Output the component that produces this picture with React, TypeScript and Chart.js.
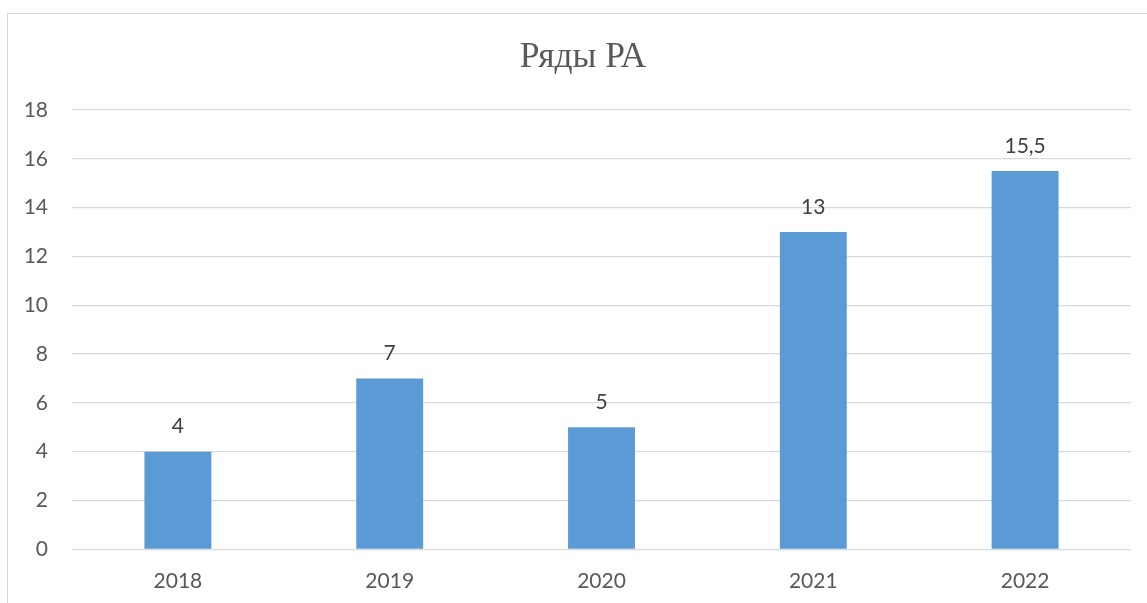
import React, { useEffect, useRef } from "react";
import { Chart, registerables } from "chart.js";

Chart.register(...registerables);

const chartTitle = "Ряды РА";
const categories = ["2018", "2019", "2020", "2021", "2022"];
const seriesValues = [4, 7, 5, 13, 15.5];
const yTickMin = 0;
const yTickMax = 18;
const yTickStep = 2;

const valueLabelPlugin = {
  id: "valueLabels",
  afterDatasetsDraw(chart: any) {
    const ctx = chart.ctx;
    const meta = chart.getDatasetMeta(0);
    ctx.save();
    ctx.font = "21px Lato";
    ctx.fillStyle = "#404040";
    ctx.textAlign = "center";
    ctx.textBaseline = "middle";
    meta.data.forEach((bar: any, i: number) => {
      const v = chart.data.datasets[0].data[i];
      const text = String(v).replace(".", ",");
      ctx.fillText(text, bar.x, bar.y - 25);
    });
    ctx.restore();
  },
};

export default function App() {
  const ref = useRef<HTMLCanvasElement | null>(null);

  useEffect(() => {
    if (!ref.current) return;
    const chart = new Chart(ref.current, {
      type: "bar",
      data: {
        labels: categories,
        datasets: [
          {
            label: chartTitle,
            data: seriesValues,
            backgroundColor: "#5B9BD5",
            borderWidth: 0,
            categoryPercentage: 1,
            barPercentage: 0.316,
          },
        ],
      },
      options: {
        responsive: false,
        animation: false,
        layout: { padding: { left: 0, right: 0, top: 0, bottom: 0 } },
        plugins: {
          legend: { display: false },
          tooltip: { enabled: false },
          title: {
            display: true,
            text: chartTitle,
            color: "#595959",
            font: { family: "'Liberation Serif', 'Times New Roman', serif", size: 35.5, weight: "normal", lineHeight: 1.2 },
            padding: { top: 22, bottom: 31.5 },
          },
        },
        scales: {
          x: {
            grid: { display: false, drawTicks: false },
            border: { display: false },
            ticks: {
              color: "#595959",
              font: { family: "Lato", size: 21 },
              padding: 19,
            },
            afterFit: (scale: any) => {
              scale.height = 62.7;
            },
          },
          y: {
            min: yTickMin,
            max: yTickMax,
            grid: { color: "#D9D9D9", lineWidth: 1.3, drawTicks: false },
            border: { display: false },
            ticks: {
              stepSize: yTickStep,
              color: "#595959",
              font: { family: "Lato", size: 21 },
              padding: 24,
            },
            afterFit: (scale: any) => {
              scale.width = 64;
            },
          },
          yRightGap: {
            type: "linear",
            position: "right",
            display: true,
            grid: { display: false, drawTicks: false },
            border: { display: false },
            ticks: { display: false },
            afterFit: (scale: any) => {
              scale.width = 27;
            },
          },
        },
      },
      plugins: [valueLabelPlugin],
    });
    return () => chart.destroy();
  }, []);

  return (
    <div
      style={{
        position: "fixed",
        left: 0,
        top: 0,
        width: 1147,
        height: 603,
        overflow: "hidden",
        background: "#fff",
      }}
    >
      <div
        style={{
          position: "absolute",
          left: 7,
          top: 13,
          width: 1152,
          height: 600,
          border: "1px solid #D9D9D9",
          boxSizing: "border-box",
          background: "#fff",
        }}
      >
        <canvas ref={ref} width={1150} height={598} style={{ display: "block", width: 1150, height: 598 }} />
      </div>
    </div>
  );
}
